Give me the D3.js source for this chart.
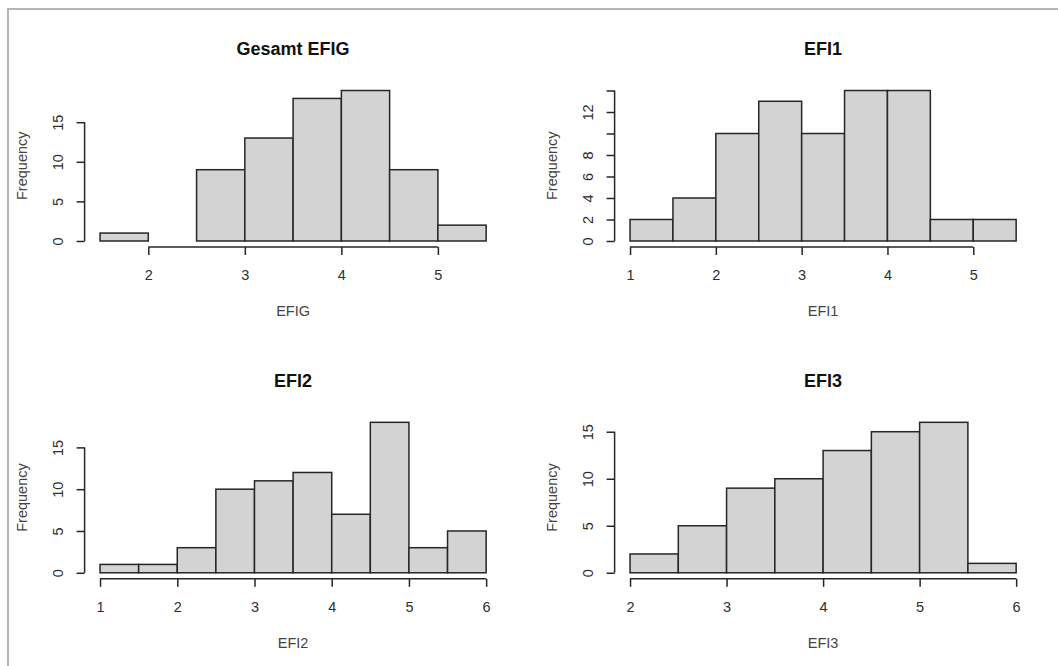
<!DOCTYPE html>
<html>
<head>
<meta charset="utf-8">
<script src="https://cdn.jsdelivr.net/npm/d3@7"></script>
<style>
  body { margin: 0; background: #fff; }
  svg text { font-family: "Liberation Sans", Arial, sans-serif; }
</style>
</head>
<body>
<div id="chart"></div>
<script>
// histogram data (bin width 0.5)
const panelTitles = ["Gesamt EFIG", "EFI1", "EFI2", "EFI3"];
const xTitles = ["EFIG", "EFI1", "EFI2", "EFI3"];
const binStarts = [1.5, 1, 1, 2];
const binWidth = 0.5;

const countsEFIG = [1, 0, 9, 13, 18, 19, 9, 2];
const countsEFI1 = [2, 4, 10, 13, 10, 14, 14, 2, 2];
const countsEFI2 = [1, 1, 3, 10, 11, 12, 7, 18, 3, 5];
const countsEFI3 = [2, 5, 9, 10, 13, 15, 16, 1];

const xTicksEFIG = [2, 3, 4, 5];
const xTicksEFI1 = [1, 2, 3, 4, 5];
const xTicksEFI2 = [1, 2, 3, 4, 5, 6];
const xTicksEFI3 = [2, 3, 4, 5, 6];

const yTicksEFIG = [0, 5, 10, 15];
const yTicksEFI1 = [0, 2, 4, 6, 8, 10, 12, 14];
const yTicksEFI2 = [0, 5, 10, 15];
const yTicksEFI3 = [0, 5, 10, 15];

// labels R actually printed (10 and 14 dropped on EFI1 because of overlap)
const yLabelsEFI1 = [0, 2, 4, 6, 8, 12];

const allCounts = [countsEFIG, countsEFI1, countsEFI2, countsEFI3];
const allXTicks = [xTicksEFIG, xTicksEFI1, xTicksEFI2, xTicksEFI3];
const allYTicks = [yTicksEFIG, yTicksEFI1, yTicksEFI2, yTicksEFI3];
const allYLabels = [yTicksEFIG, yLabelsEFI1, yTicksEFI2, yTicksEFI3];

const width = 1058;
const height = 666;

const svg = d3.select("#chart")
    .append("svg")
    .attr("width", width)
    .attr("height", height);

// gray frame on top and left edge
svg.append("line")
    .attr("x1", 8).attr("x2", width).attr("y1", 9).attr("y2", 9)
    .attr("stroke", "#b4b4b4").attr("stroke-width", 2);
svg.append("line")
    .attr("x1", 8).attr("x2", 8).attr("y1", 8).attr("y2", height)
    .attr("stroke", "#b4b4b4").attr("stroke-width", 2);

// plot regions
const colLeft = [84.6, 614.6];
const rowTop = [84.5, 416.3];
const plotW = 417;
const plotH = 162.5;
const ink = "#262626";

panelTitles.forEach((title, i) => {
    const counts = allCounts[i];
    const x0 = binStarts[i];
    const x1 = x0 + counts.length * binWidth;
    const yMax = d3.max(counts);

    const left = colLeft[i % 2];
    const top = rowTop[Math.floor(i / 2)];

    // R pads the range by 4% on each side
    const padX = (x1 - x0) * 0.04;
    const x = d3.scaleLinear()
        .domain([x0 - padX, x1 + padX])
        .range([left, left + plotW]);
    const y = d3.scaleLinear()
        .domain([-yMax * 0.04, yMax * 1.04])
        .range([top + plotH, top]);

    const g = svg.append("g");

    // bars
    const bins = counts.map((c, k) => ({ start: x0 + k * binWidth, count: c }));
    g.selectAll("rect")
        .data(bins)
        .enter().append("rect")
        .attr("x", d => x(d.start))
        .attr("width", d => x(d.start + binWidth) - x(d.start))
        .attr("y", d => y(d.count))
        .attr("height", d => y(0) - y(d.count))
        .attr("fill", "#d3d3d3")
        .attr("stroke", ink)
        .attr("stroke-width", 1.5);

    // x axis
    const xTicks = allXTicks[i];
    const axisY = top + plotH;
    const xAxis = g.append("g")
        .attr("transform", `translate(0,${axisY})`)
        .call(d3.axisBottom(x).tickValues(xTicks).tickSize(8).tickFormat(d3.format("d")));
    xAxis.select(".domain").remove();
    xAxis.append("line")
        .attr("x1", x(xTicks[0])).attr("x2", x(xTicks[xTicks.length - 1]))
        .attr("stroke", ink).attr("stroke-width", 1.5);
    xAxis.selectAll(".tick line").attr("stroke", ink).attr("stroke-width", 1.5);
    xAxis.selectAll(".tick text")
        .attr("y", 28).attr("dy", "0.35em")
        .attr("fill", "#2e2e2e")
        .style("font-size", "14.5px");

    // y axis
    const yTicks = allYTicks[i];
    const yLabels = allYLabels[i];
    const axisX = left;
    const yAxis = g.append("g")
        .attr("transform", `translate(${axisX},0)`)
        .call(d3.axisLeft(y).tickValues(yTicks).tickSize(8)
            .tickFormat(d => yLabels.includes(d) ? d : ""));
    yAxis.select(".domain").remove();
    yAxis.append("line")
        .attr("y1", y(yTicks[0])).attr("y2", y(yTicks[yTicks.length - 1]))
        .attr("stroke", ink).attr("stroke-width", 1.5);
    yAxis.selectAll(".tick line").attr("stroke", ink).attr("stroke-width", 1.5);
    yAxis.selectAll(".tick text")
        .attr("x", 0).attr("dy", "0.35em")
        .attr("text-anchor", "middle")
        .attr("transform", "translate(-26.5,0) rotate(-90)")
        .attr("fill", "#2e2e2e")
        .style("font-size", "14.5px");

    // titles
    g.append("text")
        .attr("x", left + plotW / 2)
        .attr("y", top - 35.5)
        .attr("dy", "0.35em")
        .attr("text-anchor", "middle")
        .style("font-size", "18px")
        .style("font-weight", "bold")
        .attr("fill", "#111")
        .text(title);

    g.append("text")
        .attr("x", left + plotW / 2)
        .attr("y", axisY + 64)
        .attr("dy", "0.35em")
        .attr("text-anchor", "middle")
        .style("font-size", "14.5px")
        .attr("fill", "#444")
        .text(xTitles[i]);

    g.append("text")
        .attr("transform", `translate(${axisX - 62.5},${top + plotH / 2}) rotate(-90)`)
        .attr("dy", "0.35em")
        .attr("text-anchor", "middle")
        .style("font-size", "14.5px")
        .attr("fill", "#444")
        .text("Frequency");
});
</script>
</body>
</html>
